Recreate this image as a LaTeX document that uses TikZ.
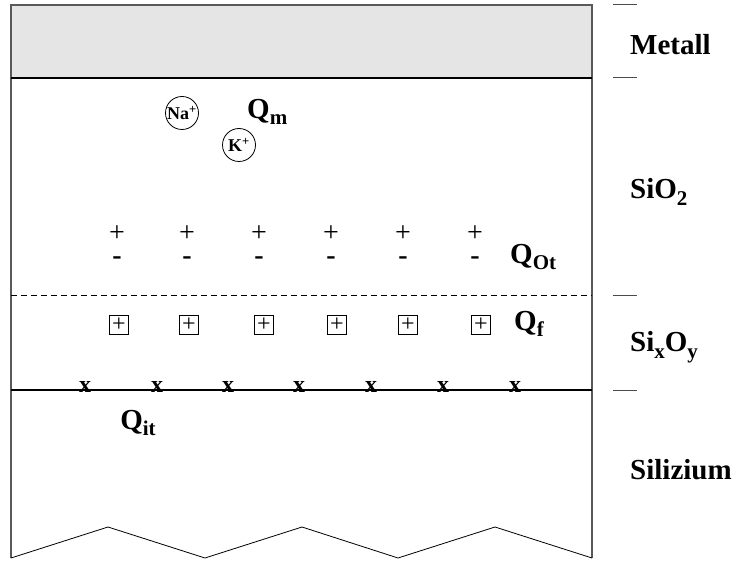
\documentclass[tikz,border=0pt]{standalone}
\usepackage{fontspec}
\setmainfont{Liberation Serif}
\newcommand{\lsub}[1]{\raisebox{-6.5pt}{\fontsize{21}{21}\selectfont\bfseries #1}}
\begin{document}
\begin{tikzpicture}[x=1pt,y=-1pt,
  big/.style={font=\fontsize{29}{29}\selectfont\bfseries, inner sep=0pt},
  layerlabel/.style={big, anchor=west},
  pluscharge/.style={font=\fontsize{28}{28}\selectfont, inner sep=0pt, text height=14pt, text depth=0pt},
  minuscharge/.style={font=\fontsize{28}{28}\selectfont\bfseries, inner sep=0pt, text height=6pt, text depth=0pt},
  fixedcharge/.style={draw, line width=0.8pt, minimum size=19pt, inner sep=0pt,
    font=\fontsize{24}{24}\selectfont},
  trap/.style={font=\fontsize{24}{24}\selectfont\bfseries, inner sep=0pt},
  ion/.style={draw, circle, line width=0.8pt, minimum size=33pt, inner sep=0pt,
    font=\fontsize{18}{18}\selectfont\bfseries},
  tick/.style={draw=black!70, line width=1pt}]
\useasboundingbox (0,0) rectangle (733,561);

% metal gate
\fill[black!10] (11,5) rectangle (592,78);
\draw[black!65, line width=1.3pt] (11,78) -- (11,5) -- (592,5) -- (592,78);
% substrate outline with zig-zag cut
\draw[black!65, line width=1.3pt] (11,78) -- (11,558);
\draw[black!65, line width=1.3pt] (592,78) -- (592,558);
\draw[black, line width=0.8pt] (11,558) -- (108,527) -- (205,558) -- (302,527)
  -- (398,558) -- (495,527) -- (592,558);
% interfaces
\draw[black, line width=1.2pt] (11,78) -- (592,78);
\draw[black, line width=0.8pt, dash pattern=on 6pt off 4pt] (11,295) -- (592,295);
\draw[black, line width=1.2pt] (11,390) -- (592,390);

% ticks at the right
\foreach \yy in {5,78,295,390} \draw[tick] (613,\yy) -- (637,\yy);

% layer names
\node[layerlabel] (metall) at (630,45) {Metall};
\node[layerlabel] (sio) at (630,192) {SiO\lsub{2}};
\node[layerlabel] (sixoy) at (630,347) {Si\lsub{x}O\lsub{y}};
\node[layerlabel] (si) at (630,470) {Silizium};

% mobile ions
\node[ion] (na) at (182,113) {Na\textsuperscript{+}};
\node[ion] (k) at (239,145) {K\textsuperscript{+}};
\node[big, anchor=west] (qm) at (247,112) {Q\lsub{m}};

% oxide trapped charge
\foreach \xx [count=\i] in {117,187,259,331,403,475} {
  \node[pluscharge] (ot\i) at (\xx,235) {+};
  \node[minuscharge] (om\i) at (\xx,262) {-};
}
\node[big, anchor=west] (qot) at (510,257) {Q\lsub{Ot}};

% fixed oxide charge
\foreach \xx [count=\i] in {119,189,264,337,408,481} {
  \node[fixedcharge] (f\i) at (\xx,325) {+};
}
\node[big, anchor=west] (qf) at (514,324) {Q\lsub{f}};

% interface traps
\foreach \xx [count=\i] in {85,157,228,299,371,443,515} {
  \node[trap] (it\i) at (\xx,387) {x};
}
\node[big] (qit) at (138,423) {Q\lsub{it}};
\end{tikzpicture}
\end{document}
